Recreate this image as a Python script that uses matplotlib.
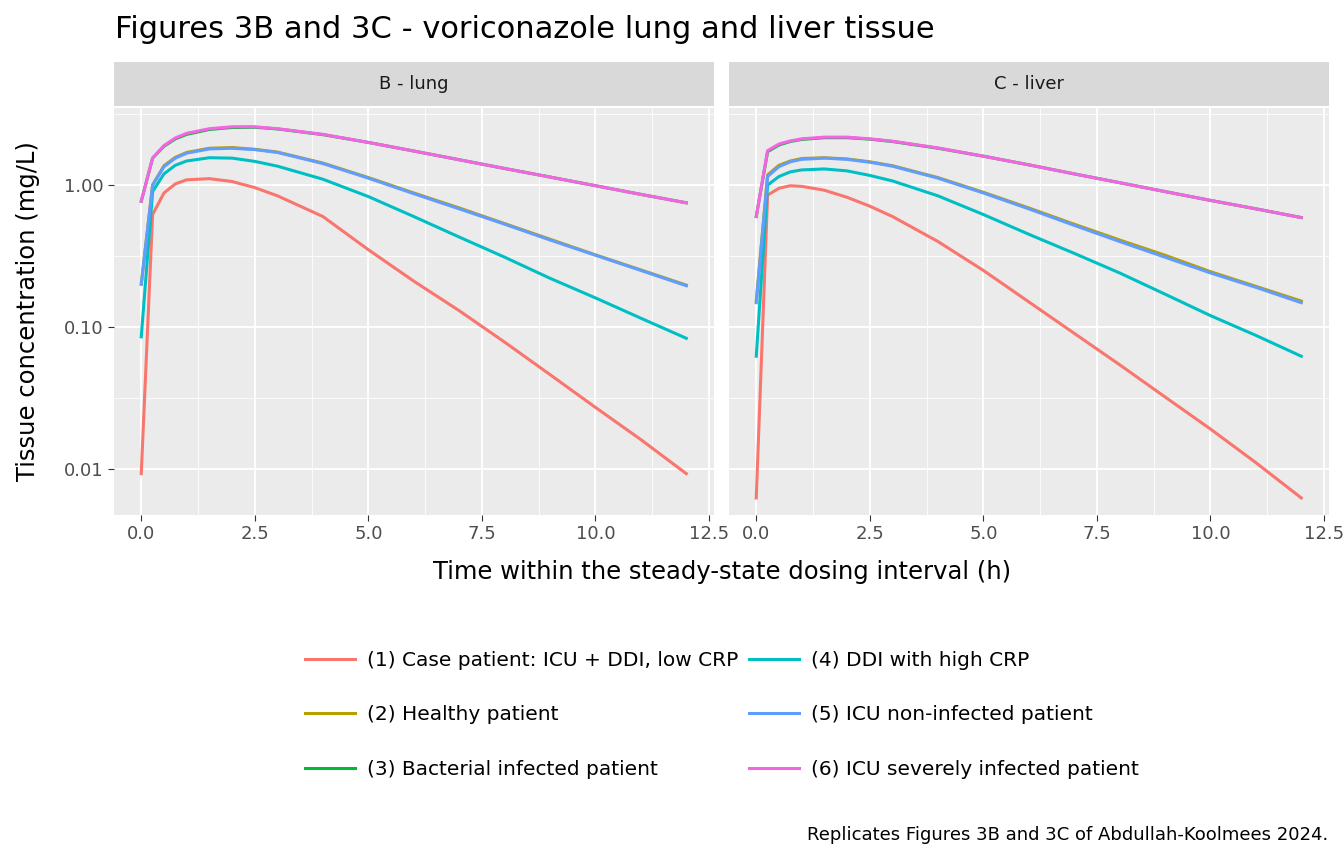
import numpy as np
import matplotlib.pyplot as plt
from matplotlib.ticker import FixedLocator, FixedFormatter

t = [0, 0.25, 0.5, 0.75, 1, 1.5, 2, 2.5, 3, 4, 5, 6, 7, 8, 9, 10, 11, 12]

labels = ['(1) Case patient: ICU + DDI, low CRP', '(2) Healthy patient',
          '(3) Bacterial infected patient', '(4) DDI with high CRP',
          '(5) ICU non-infected patient', '(6) ICU severely infected patient']
colors = ['#F8766D', '#B79F00', '#00BA38', '#00BFC4', '#619CFF', '#F564E3']

lung = [
    [0.0092, 0.62, 0.88, 1.02, 1.09, 1.11, 1.06, 0.96, 0.84, 0.6, 0.35, 0.21, 0.13, 0.078, 0.046, 0.027, 0.016, 0.0092],
    [0.2, 1.0, 1.37, 1.57, 1.7, 1.82, 1.84, 1.79, 1.71, 1.43, 1.13, 0.88, 0.69, 0.535, 0.415, 0.322, 0.252, 0.197],
    [0.77, 1.55, 1.88, 2.12, 2.28, 2.47, 2.55, 2.56, 2.49, 2.27, 2.0, 1.74, 1.51, 1.31, 1.14, 0.99, 0.86, 0.75],
    [0.085, 0.9, 1.2, 1.38, 1.48, 1.56, 1.55, 1.47, 1.36, 1.1, 0.83, 0.6, 0.43, 0.31, 0.22, 0.16, 0.115, 0.083],
    [0.2, 1.0, 1.35, 1.55, 1.68, 1.8, 1.82, 1.78, 1.7, 1.42, 1.12, 0.87, 0.68, 0.53, 0.41, 0.32, 0.25, 0.195],
    [0.77, 1.55, 1.9, 2.15, 2.32, 2.5, 2.58, 2.58, 2.5, 2.28, 2.0, 1.74, 1.51, 1.31, 1.14, 0.99, 0.86, 0.75],
]
liver = [
    [0.0062, 0.85, 0.95, 0.99, 0.98, 0.92, 0.82, 0.71, 0.6, 0.4, 0.25, 0.15, 0.09, 0.054, 0.032, 0.019, 0.011, 0.0062],
    [0.152, 1.18, 1.38, 1.48, 1.54, 1.56, 1.53, 1.46, 1.37, 1.13, 0.89, 0.69, 0.53, 0.41, 0.32, 0.245, 0.193, 0.152],
    [0.6, 1.72, 1.92, 2.03, 2.1, 2.16, 2.16, 2.11, 2.03, 1.82, 1.6, 1.39, 1.2, 1.04, 0.9, 0.78, 0.68, 0.59],
    [0.062, 1.0, 1.15, 1.24, 1.28, 1.3, 1.26, 1.17, 1.07, 0.84, 0.62, 0.45, 0.33, 0.24, 0.17, 0.12, 0.087, 0.062],
    [0.148, 1.15, 1.35, 1.46, 1.52, 1.55, 1.52, 1.45, 1.36, 1.12, 0.88, 0.68, 0.52, 0.4, 0.31, 0.24, 0.19, 0.148],
    [0.6, 1.75, 1.95, 2.05, 2.12, 2.18, 2.18, 2.12, 2.04, 1.83, 1.6, 1.39, 1.2, 1.04, 0.9, 0.78, 0.68, 0.59],
]
panels = [('B - lung', lung), ('C - liver', liver)]

W, H = 1344, 864
fig = plt.figure(figsize=(W / 100, H / 100), dpi=100)

def box(x0, y0, x1, y1):
    return [x0 / W, 1 - y1 / H, (x1 - x0) / W, (y1 - y0) / H]

lefts = [114, 729]
handles = []
for i, (name, data) in enumerate(panels):
    x0 = lefts[i]
    ax = fig.add_axes(box(x0, 108, x0 + 600, 515))
    ax.set_facecolor('#EBEBEB')
    for s in ax.spines.values():
        s.set_visible(False)
    ax.set_yscale('log')
    ax.set_xlim(-0.6, 12.61)
    ax.set_ylim(0.0047, 3.5)
    ax.xaxis.set_major_locator(FixedLocator([0, 2.5, 5, 7.5, 10, 12.5]))
    ax.xaxis.set_major_formatter(FixedFormatter(['0.0', '2.5', '5.0', '7.5', '10.0', '12.5']))
    ax.xaxis.set_minor_locator(FixedLocator([1.25, 3.75, 6.25, 8.75, 11.25]))
    ax.yaxis.set_major_locator(FixedLocator([0.01, 0.1, 1.0]))
    ax.yaxis.set_minor_locator(FixedLocator([10**-1.5, 10**-0.5, 10**0.5]))
    ax.yaxis.set_minor_formatter(FixedFormatter([]))
    if i == 0:
        ax.yaxis.set_major_formatter(FixedFormatter(['0.01', '0.10', '1.00']))
    else:
        ax.yaxis.set_major_formatter(FixedFormatter(['', '', '']))
    ax.grid(True, which='major', color='white', lw=1.3)
    ax.grid(True, which='minor', color='white', lw=0.6)
    ax.set_axisbelow(True)
    ax.tick_params(which='both', length=4, color='#333333', labelsize=13, labelcolor='#4D4D4D')
    ax.tick_params(which='minor', length=0)
    if i == 1:
        ax.tick_params(axis='y', length=0)
    for k, y in enumerate(data):
        h, = ax.plot(t, y, color=colors[k], lw=2.2, label=labels[k])
        handles.append(h)
    sax = fig.add_axes(box(x0, 62, x0 + 600, 106))
    sax.set_facecolor('#D9D9D9')
    sax.set_xticks([]); sax.set_yticks([])
    for s in sax.spines.values():
        s.set_visible(False)
    sax.text(0.5, 0.5, name, ha='center', va='center', fontsize=13, color='#1A1A1A', transform=sax.transAxes)

fig.text(115 / W, 1 - 30 / H, 'Figures 3B and 3C - voriconazole lung and liver tissue', fontsize=22, va='center')
fig.text(722 / W, 1 - 572 / H, 'Time within the steady-state dosing interval (h)', fontsize=17.5, ha='center', va='center')
fig.text(28 / W, 1 - 311 / H, 'Tissue concentration (mg/L)', fontsize=17.5, rotation=90, ha='center', va='center')
fig.text(1328 / W, 1 - 835 / H, 'Replicates Figures 3B and 3C of Abdullah-Koolmees 2024.', fontsize=13, ha='right', va='center')

leg = fig.legend(handles[:6], labels, loc='center', bbox_to_anchor=(722 / W, 1 - 715 / H), ncol=2,
                 frameon=False, fontsize=14.5, handlelength=2.5, labelspacing=1.75,
                 columnspacing=0.5, handletextpad=0.6)
fig.savefig('out.png', dpi=100)
